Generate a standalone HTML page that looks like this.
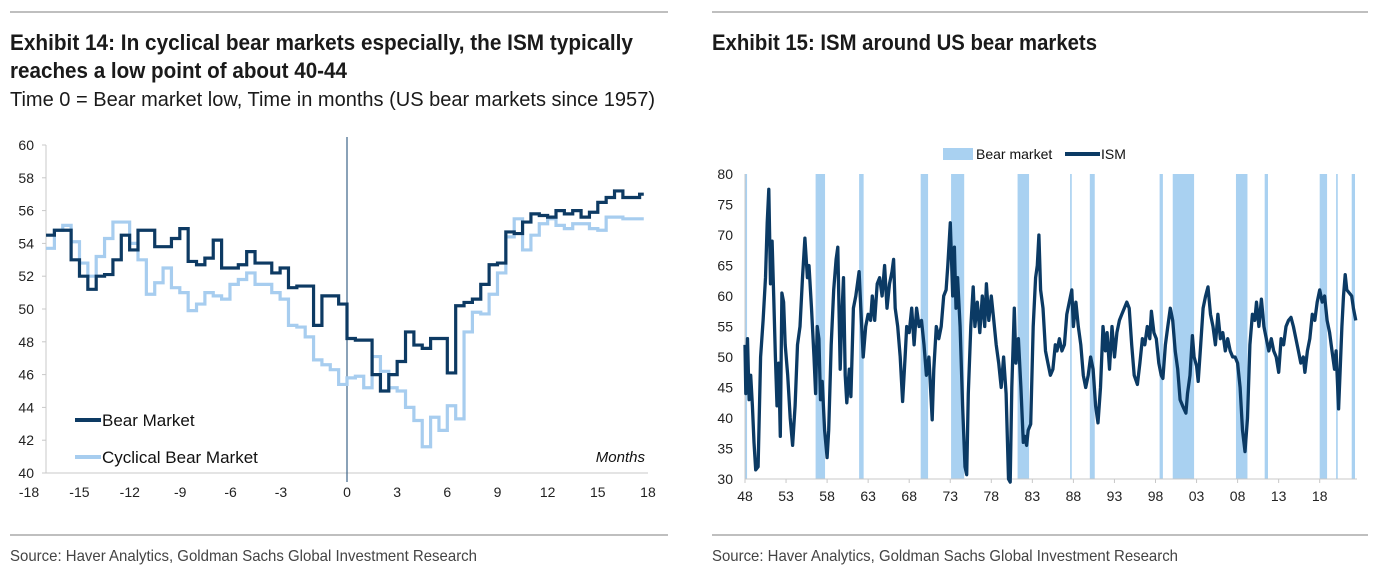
<!DOCTYPE html>
<html><head><meta charset="utf-8"><style>
html,body{margin:0;padding:0;background:#fff;}
svg{display:block;font-family:"Liberation Sans Narrow","Liberation Sans",Arial,sans-serif;}
</style></head><body>
<svg id="root" width="1377" height="573" viewBox="0 0 1377 573" xmlns="http://www.w3.org/2000/svg">
<line x1="10" y1="12" x2="668" y2="12" stroke="#999" stroke-width="1.2"/>
<line x1="712" y1="12" x2="1368" y2="12" stroke="#999" stroke-width="1.2"/>
<text x="10" y="50" font-size="22" font-weight="bold" fill="#1a1a1a" textLength="623" lengthAdjust="spacingAndGlyphs">Exhibit 14: In cyclical bear markets especially, the ISM typically</text>
<text x="10" y="78" font-size="22" font-weight="bold" fill="#1a1a1a" textLength="337" lengthAdjust="spacingAndGlyphs">reaches a low point of about 40-44</text>
<text x="10" y="106" font-size="20" fill="#1a1a1a" textLength="645" lengthAdjust="spacingAndGlyphs">Time 0 = Bear market low, Time in months (US bear markets since 1957)</text>
<text x="712" y="50" font-size="22" font-weight="bold" fill="#1a1a1a" textLength="385" lengthAdjust="spacingAndGlyphs">Exhibit 15: ISM around US bear markets</text>
<line x1="10" y1="535" x2="668" y2="535" stroke="#999" stroke-width="1.2"/>
<line x1="712" y1="535" x2="1368" y2="535" stroke="#999" stroke-width="1.2"/>
<text x="10" y="561" font-size="16" fill="#444" textLength="467" lengthAdjust="spacingAndGlyphs">Source: Haver Analytics, Goldman Sachs Global Investment Research</text>
<text x="712" y="561" font-size="16" fill="#444" textLength="466" lengthAdjust="spacingAndGlyphs">Source: Haver Analytics, Goldman Sachs Global Investment Research</text>
<g id="left"></g>
<g id="right"></g>
</svg>
<script>
// ---- Left chart data ----
const months = [-18,-17.5,-17,-16.5,-16,-15.5,-15,-14.5,-14,-13.5,-13,-12.5,-12,-11.5,-11,-10.5,-10,-9.5,-9,-8.5,-8,-7.5,-7,-6.5,-6,-5.5,-5,-4.5,-4,-3.5,-3,-2.5,-2,-1.5,-1,-0.5,0,0.5,1,1.5,2,2.5,3,3.5,4,4.5,5,5.5,6,6.5,7,7.5,8,8.5,9,9.5,10,10.5,11,11.5,12,12.5,13,13.5,14,14.5,15,15.5,16,16.5,17,17.5];
const bearValues = [54.5,54.8,54.8,53.0,52.0,51.2,52.0,52.1,53.0,54.5,53.6,54.8,54.8,53.8,53.8,54.3,54.9,52.9,52.7,53.1,54.2,52.5,52.5,52.7,53.5,52.8,52.8,52.2,52.5,51.3,51.4,51.4,49.0,50.8,50.8,50.3,48.2,48.1,48.1,46.0,45.0,46.0,46.8,48.6,47.8,47.6,48.2,48.2,46.1,50.2,50.4,50.6,51.5,52.7,52.8,54.7,54.6,55.3,55.8,55.7,55.6,56.0,55.8,56.0,55.6,55.9,56.5,56.8,57.2,56.8,56.8,57.0];
const cyclicalValues = [53.7,54.8,55.1,54.1,52.8,52.0,53.2,54.3,55.3,55.3,54.0,53.0,50.9,51.6,52.5,51.3,51.0,49.9,50.3,51.0,50.8,50.6,51.5,51.8,52.2,51.5,51.5,51.0,50.6,49.0,48.9,48.3,46.9,46.6,46.3,45.4,45.8,45.9,45.2,47.1,46.2,45.2,45.0,44.0,43.2,41.6,43.4,42.6,44.1,43.3,48.6,49.8,49.7,50.9,52.2,54.4,55.5,53.6,54.5,55.2,55.5,55.1,54.9,55.2,55.2,54.9,54.8,55.6,55.6,55.5,55.5,55.5];
const leftYTicks = [40,42,44,46,48,50,52,54,56,58,60];
const leftXTicks = [-18,-15,-12,-9,-6,-3,0,3,6,9,12,15,18];

// ---- Right chart data ----
const ismYears = [48.0,48.1,48.3,48.5,48.7,48.9,49.1,49.3,49.6,49.9,50.2,50.5,50.7,50.9,51.1,51.3,51.5,51.7,51.9,52.1,52.3,52.5,52.7,52.9,53.2,53.5,53.8,54.1,54.4,54.7,55.0,55.3,55.6,55.8,56.1,56.4,56.6,56.8,57.0,57.2,57.4,57.7,58.0,58.2,58.5,58.8,59.1,59.3,59.6,59.8,60.0,60.2,60.4,60.7,60.9,61.2,61.5,61.9,62.1,62.4,62.7,63.0,63.3,63.5,63.8,64.1,64.4,64.7,65.0,65.3,65.6,65.9,66.1,66.3,66.6,66.9,67.2,67.5,67.7,68.0,68.3,68.6,68.9,69.2,69.5,69.8,70.1,70.4,70.6,70.8,71.0,71.3,71.6,71.9,72.2,72.5,72.7,73.0,73.3,73.5,73.7,73.9,74.2,74.5,74.8,75.0,75.2,75.5,75.8,76.0,76.3,76.6,76.9,77.2,77.4,77.7,78.0,78.3,78.6,78.9,79.2,79.5,79.8,80.1,80.3,80.5,80.8,81.0,81.3,81.6,81.9,82.1,82.3,82.5,82.8,83.1,83.4,83.6,83.8,84.0,84.3,84.6,84.9,85.2,85.5,85.8,86.0,86.3,86.6,86.9,87.2,87.5,87.8,88.0,88.3,88.6,88.9,89.2,89.5,89.8,90.1,90.4,90.7,91.0,91.3,91.6,91.9,92.1,92.4,92.7,93.0,93.3,93.6,93.9,94.2,94.5,94.8,95.1,95.4,95.8,96.1,96.4,96.7,97.0,97.3,97.5,97.8,98.1,98.4,98.7,98.9,99.2,99.5,99.8,100.1,100.4,100.7,101.0,101.3,101.7,101.9,102.2,102.5,102.7,103.0,103.2,103.5,103.8,104.1,104.4,104.7,105.0,105.3,105.6,105.9,106.2,106.5,106.8,107.1,107.4,107.7,108.0,108.3,108.6,108.9,109.2,109.5,109.8,110.1,110.3,110.6,110.9,111.2,111.5,111.8,112.1,112.4,112.7,113.0,113.3,113.6,113.9,114.2,114.5,114.8,115.1,115.4,115.7,116.0,116.2,116.5,116.8,117.1,117.4,117.7,118.0,118.3,118.6,118.9,119.2,119.5,119.8,120.0,120.3,120.5,120.7,120.9,121.1,121.3,121.6,121.9,122.1,122.4];
const ismValues = [52,44,53,43,47,42,36,31.5,32,50,56,63,72,77.5,62,69,60,50,42,49,37,60.5,59,52,47,40,35.5,42,52,55,63,69.5,63,65,58,50,44,55,53,43,46,38,33.5,38,52,61,66,68,48,57,63,47,42.5,48,43.5,58,60,64,58,50,55,57,56,60,56,62,63,60,65,58,62,64,66,58,55,50,42.7,50,55,54,58,52,58,55,56,52,47,50,45,39.7,48,55,53,55,60,61,65,72,60,68,58,63,55,42,32,30.7,44,55,61.5,55,59,54,60,55,62,56,60,56,52,49,45,50,44,30,29.5,45,58,49,53,45,36,37,35.5,38,39,55,63,65,70,61,58,51,49,47,48,52,51,53,51,52,57,59,61,55,59,55,52,47,45,47,50,48,42,39.2,45,55,51,54,48,55,50,54,56,57,58,59,58,52,47,45.5,49,53,52,55,53,57.5,54,53,49,47,46.5,52,55,58,56,51,48,43,42,40.8,44,47,53.5,50,48.5,46,52,58,60,61.5,57,55,52,57,53,54,51,53,51,50,50,49,45,38,34.5,40,52,57,56,59,55,59.5,55,53,51,53,51,50,47.5,53,52,55,56,56.5,55,53,51,49,50,47.5,51,53,57,56,59,61,59,60,56,54,51,48,51,41.5,48,55,60,63.5,61,60.5,60,58,56];
const bearStarts = [48.0,56.6,61.9,69.4,73.1,81.2,87.6,90.0,98.5,100.1,107.8,111.3,118.0,120.0,121.9];
const bearEnds   = [48.25,57.75,62.45,70.3,74.7,82.6,87.8,90.6,98.9,102.7,109.2,111.7,118.9,120.2,122.3];
const rightYTicks = [30,35,40,45,50,55,60,65,70,75,80];
const rightXTicks = [48,53,58,63,68,73,78,83,88,93,98,103,108,113,118];

const NS = "http://www.w3.org/2000/svg";
function mk(parent, tag, attrs, text){
  const el = document.createElementNS(NS, tag);
  for (const k in attrs) el.setAttribute(k, attrs[k]);
  if (text !== undefined) el.textContent = text;
  parent.appendChild(el);
  return el;
}

// ---- Left chart ----
const L = document.getElementById('left');
const lx = m => 347 + m * 16.72;
const ly = v => 473 - (v - 40) * 16.4;
const labelX = t => t < 0 ? 29 + (t + 18) * 16.8 : lx(t);
let e;
e = mk(L, 'line', {x1:46, y1:ly(60), x2:46, y2:473, stroke:'#c8c8c8', 'stroke-width':1});


e = mk(L, 'line', {x1:46, y1:473, x2:648, y2:473, stroke:'#c8c8c8', 'stroke-width':1});


leftYTicks.forEach(t => {
  e = mk(L, 'text', {x:34, y:ly(t)+5, 'font-size':14, 'text-anchor':'end', fill:'#222', 'font-family':'Liberation Sans, Arial, sans-serif'}, String(t));
  
  
  mk(L, 'line', {x1:42, y1:ly(t), x2:46, y2:ly(t), stroke:'#c8c8c8'});
});
leftXTicks.forEach(t => {
  e = mk(L, 'text', {x:labelX(t), y:497, 'font-size':14, 'text-anchor':'middle', fill:'#222', 'font-family':'Liberation Sans, Arial, sans-serif'}, String(t));
  
  
});
e = mk(L, 'line', {x1:lx(0), y1:137, x2:lx(0), y2:482, stroke:'#3d6488', 'stroke-width':1.2});


function stepPath(xs, ys){
  let d = 'M' + lx(xs[0]) + ',' + ly(ys[0]);
  for (let i = 1; i < xs.length; i++) d += 'H' + lx(xs[i]) + 'V' + ly(ys[i]);
  d += 'H' + lx(xs[xs.length-1] + 0.25);
  return d;
}
e = mk(L, 'path', {d:stepPath(months, cyclicalValues), fill:'none', stroke:'#a7cdef', 'stroke-width':3.2});


e = mk(L, 'path', {d:stepPath(months, bearValues), fill:'none', stroke:'#0d3a63', 'stroke-width':3.2});


e = mk(L, 'line', {x1:75, y1:420, x2:101, y2:420, stroke:'#0d3a63', 'stroke-width':4});


e = mk(L, 'text', {x:102, y:426, 'font-size':17, fill:'#111', 'font-family':'Liberation Sans, Arial, sans-serif'}, 'Bear Market');


e = mk(L, 'line', {x1:75, y1:457, x2:101, y2:457, stroke:'#a7cdef', 'stroke-width':4});


e = mk(L, 'text', {x:102, y:463, 'font-size':17, fill:'#111', 'font-family':'Liberation Sans, Arial, sans-serif'}, 'Cyclical Bear Market');


e = mk(L, 'text', {x:645, y:462, 'font-size':15, 'font-style':'italic', 'text-anchor':'end', fill:'#111', 'font-family':'Liberation Sans, Arial, sans-serif'}, 'Months');



// ---- Right chart ----
const R = document.getElementById('right');
const rx = y => 745 + (y - 48) * 8.21;
const ry = v => 479 - (v - 30) * 6.1;
for (let i = 0; i < bearStarts.length; i++) {
  e = mk(R, 'rect', {x:rx(bearStarts[i]), y:ry(80), width:Math.max(1.5, rx(bearEnds[i]) - rx(bearStarts[i])), height:ry(30)-ry(80), fill:'#a9d1f1'});
  
  
}
e = mk(R, 'line', {x1:745, y1:ry(80), x2:745, y2:479, stroke:'#c8c8c8'});


e = mk(R, 'line', {x1:745, y1:479, x2:1357, y2:479, stroke:'#c8c8c8'});


rightYTicks.forEach(t => {
  e = mk(R, 'text', {x:733, y:ry(t)+5, 'font-size':14, 'text-anchor':'end', fill:'#222', 'font-family':'Liberation Sans, Arial, sans-serif'}, String(t));
  
  
});
rightXTicks.forEach(t => {
  mk(R, 'line', {x1:rx(t), y1:479, x2:rx(t), y2:483, stroke:'#c8c8c8'});
  e = mk(R, 'text', {x:rx(t), y:501, 'font-size':14, 'text-anchor':'middle', fill:'#222', 'font-family':'Liberation Sans, Arial, sans-serif'}, String(t % 100).padStart(2, '0'));
  
  
});
let d = '';
ismYears.forEach((y, i) => { d += (i ? 'L' : 'M') + rx(y).toFixed(1) + ',' + ry(Math.max(29.5, ismValues[i])).toFixed(1); });
e = mk(R, 'path', {d:d, fill:'none', stroke:'#0b3a64', 'stroke-width':3.3, 'stroke-linejoin':'round'});


e = mk(R, 'rect', {x:943, y:148, width:30, height:12, fill:'#a9d1f1'});


e = mk(R, 'text', {x:976, y:159, 'font-size':14, fill:'#111', 'font-family':'Liberation Sans, Arial, sans-serif'}, 'Bear market');


e = mk(R, 'line', {x1:1065, y1:154, x2:1100, y2:154, stroke:'#0b3a64', 'stroke-width':4});


e = mk(R, 'text', {x:1101, y:159, 'font-size':14, fill:'#111', 'font-family':'Liberation Sans, Arial, sans-serif'}, 'ISM');


</script>
</body></html>
